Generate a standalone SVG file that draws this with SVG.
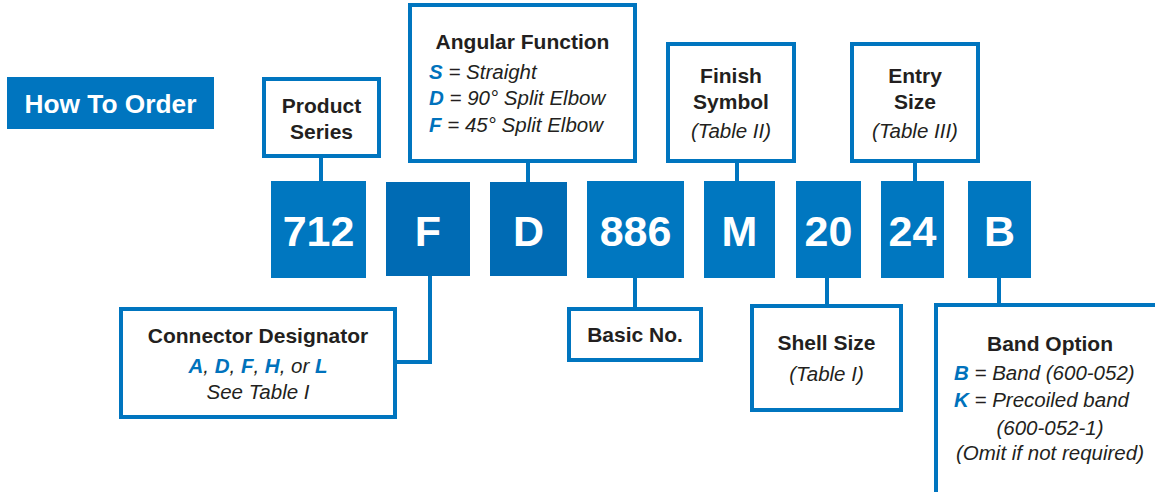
<svg xmlns="http://www.w3.org/2000/svg" width="1155" height="492" viewBox="0 0 1155 492">
<style>
.box{fill:#fff;stroke:#0075bf;stroke-width:4}
.code{fill:#0077c0}
.code2{fill:#006bb4}
.ct{font-family:"Liberation Sans",Arial,sans-serif;font-weight:bold;font-size:43px;fill:#fff;text-anchor:middle}
.t{font-family:"Liberation Sans",Arial,sans-serif;font-weight:bold;font-size:21px;fill:#231f20;text-anchor:middle}
.i{font-family:"Liberation Sans",Arial,sans-serif;font-style:italic;font-size:20.5px;fill:#231f20}
.c{text-anchor:middle}
.b{font-weight:bold;fill:#0072bc}
.conn{fill:none;stroke:#0075bf;stroke-width:4}
</style>
<rect width="1155" height="492" fill="#fff"/>
<g id="header">
<rect x="7" y="77" width="207" height="52" fill="#0075bf"/>
<text x="110.5" y="113" font-family="Liberation Sans,Arial,sans-serif" font-weight="bold" font-size="26.3" fill="#fff" text-anchor="middle">How To Order</text>
</g>
<g id="connectors">
<path class="conn" d="M321,157V182"/>
<path class="conn" d="M528,161V182"/>
<path class="conn" d="M737,161V182"/>
<path class="conn" d="M915,161V182"/>
<path class="conn" d="M430,276V362H395"/>
<path class="conn" d="M635,277V309"/>
<path class="conn" d="M827,277V306"/>
<path class="conn" d="M999,277V305"/>
</g>
<g id="code-712"><rect class="code" x="271" y="181" width="95" height="97"/><text class="ct" x="318.5" y="246">712</text></g>
<g id="code-F"><rect class="code2" x="386" y="182" width="84" height="94"/><text class="ct" x="428" y="246">F</text></g>
<g id="code-D"><rect class="code2" x="490" y="182" width="77" height="94"/><text class="ct" x="528.5" y="246">D</text></g>
<g id="code-886"><rect class="code" x="587" y="181" width="97" height="97"/><text class="ct" x="635.5" y="246">886</text></g>
<g id="code-M"><rect class="code" x="704" y="181" width="71" height="97"/><text class="ct" x="739.5" y="246">M</text></g>
<g id="code-20"><rect class="code" x="796" y="181" width="65" height="97"/><text class="ct" x="828.5" y="246">20</text></g>
<g id="code-24"><rect class="code" x="881" y="181" width="63" height="97"/><text class="ct" x="912.5" y="246">24</text></g>
<g id="code-B"><rect class="code" x="968" y="181" width="63" height="97"/><text class="ct" x="999.5" y="246">B</text></g>
<g id="product-series">
<rect class="box" x="264" y="79" width="115" height="77"/>
<text class="t" x="321.5" y="113">Product</text>
<text class="t" x="321.5" y="139">Series</text>
</g>
<g id="angular-function">
<rect class="box" x="410" y="5" width="225" height="156"/>
<text class="t" x="522.5" y="49">Angular Function</text>
<text class="i" x="429" y="79"><tspan class="b">S</tspan> = Straight</text>
<text class="i" x="429" y="105"><tspan class="b">D</tspan> = 90° Split Elbow</text>
<text class="i" x="429" y="131.5"><tspan class="b">F</tspan> = 45° Split Elbow</text>
</g>
<g id="finish-symbol">
<rect class="box" x="668" y="44" width="126" height="117"/>
<text class="t" x="731" y="83">Finish</text>
<text class="t" x="731" y="109">Symbol</text>
<text class="i c" x="731" y="138">(Table II)</text>
</g>
<g id="entry-size">
<rect class="box" x="852" y="44" width="126" height="117"/>
<text class="t" x="915" y="83">Entry</text>
<text class="t" x="915" y="109">Size</text>
<text class="i c" x="915" y="138">(Table III)</text>
</g>
<g id="connector-designator">
<rect class="box" x="121" y="309" width="274" height="108"/>
<text class="t" x="258" y="343">Connector Designator</text>
<text class="i c" x="258" y="373"><tspan class="b">A</tspan>, <tspan class="b">D</tspan>, <tspan class="b">F</tspan>, <tspan class="b">H</tspan>, or <tspan class="b">L</tspan></text>
<text class="i c" x="258" y="399">See Table I</text>
</g>
<g id="basic-no">
<rect class="box" x="569" y="309" width="132" height="51"/>
<text class="t" x="635" y="342">Basic No.</text>
</g>
<g id="shell-size">
<rect class="box" x="752" y="306" width="149" height="104"/>
<text class="t" x="826.5" y="350">Shell Size</text>
<text class="i c" x="826.5" y="381">(Table I)</text>
</g>
<g id="band-option">
<rect class="box" x="936" y="305" width="240" height="200"/>
<text class="t" x="1050" y="351">Band Option</text>
<text class="i" x="954" y="380"><tspan class="b">B</tspan> = Band (600-052)</text>
<text class="i" x="954" y="407"><tspan class="b">K</tspan> = Precoiled band</text>
<text class="i c" x="1050" y="435">(600-052-1)</text>
<text class="i c" x="1050" y="460">(Omit if not required)</text>
</g>
</svg>
